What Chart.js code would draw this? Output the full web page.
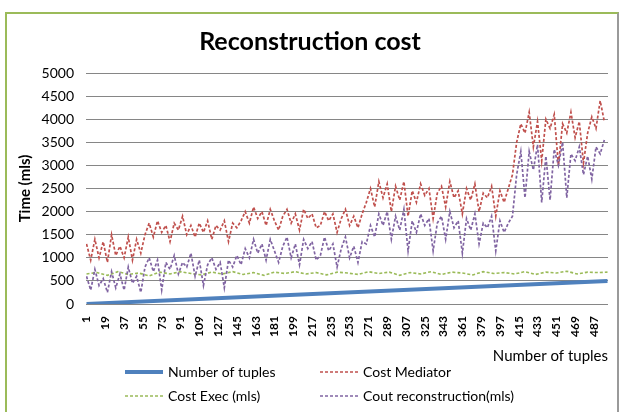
<!DOCTYPE html>
<html>
<head>
<meta charset="utf-8">
<script src="https://cdn.jsdelivr.net/npm/chart.js@4.4.1/dist/chart.umd.min.js"></script>
<style>
  body { margin: 0; background: #fff; }
  #wrap { position: relative; width: 621px; height: 412px; overflow: hidden; }
  #frame { position: absolute; left: 5px; top: 12px; width: 610px; height: 420px; border: 2px solid #9bbb59; border-right-color: #9a9a9a; }
  canvas { position: absolute; left: 0; top: 0; }
</style>
</head>
<body>
<div id="wrap">
  <div id="frame"></div>
  <canvas id="myChart" width="621" height="412"></canvas>
</div>
<script>
// tick labels shown on the x axis (every 18th tuple count)
const tickLabels = [1, 19, 37, 55, 73, 91, 109, 127, 145, 163, 181, 199, 217, 235, 253,
    271, 289, 307, 325, 343, 361, 379, 397, 415, 433, 451, 469, 487];

// number of tuples: straight line from 1 to 500
const tuplesX = [1, 500];
const tuplesY = [1, 500];

// sampled every 4 tuples (1, 5, 9, ... 497)
const costMediator = [
    1300, 950, 1400, 1000, 1350, 900, 1500, 1050, 1250, 1000, 1450, 950, 1400, 1100,
    1500, 1750, 1450, 1800, 1550, 1700, 1350, 1750, 1600, 1900, 1500, 1700, 1450, 1750,
    1550, 1800, 1400, 1700, 1600, 1800, 1350, 1750, 1650,
    1800, 2000, 1750, 2100,
    1850, 2000, 1700, 2050, 1800, 1600, 1900, 2050, 1750, 1950, 1600, 2050, 1850, 1950,
    1650, 1700, 2000, 1800, 1950, 1550, 1850, 2050, 1700, 1900, 1650, 1950,
    2200, 2500, 2100, 2650,
    2300, 2600, 2000, 2550, 2250, 2650, 1900, 2450, 2200, 2600, 2350, 2500, 1850, 2400,
    2550, 2100, 2650, 2300, 2450, 1950, 2500, 2250, 2600, 2000, 2400, 2300, 2550, 1900,
    2450, 2200, 2500,
    2800, 3500, 3900,
    3700, 4150, 3400, 3950, 3100, 4000, 3800, 4100, 3000, 3900, 3700, 4150, 3600, 3950,
    3050, 3700, 4050, 3800, 4400, 3950
];

const coutReconstruction = [
    600, 300, 750, 400, 550, 250, 700, 350, 650, 300, 800, 450, 600, 250,
    800, 1000, 700, 950, 300, 900, 750, 1050, 650, 900, 800, 1100, 600, 950,
    400, 850, 1000, 750, 900, 350, 950, 800, 1050,
    850, 1200, 1000, 1400,
    1100, 1300, 950, 1400, 1150, 900, 1250, 1450, 1000, 1300, 850, 1400, 1200, 1350,
    950, 1050, 1450, 1150, 1300, 800, 1200, 1450, 1000, 1250, 900, 1350,
    1300, 1700, 1450, 1950,
    1700, 2000, 1400, 1900, 1600, 2050, 1150, 1800, 1550, 1950, 1700, 1850, 1150, 1750,
    1900, 1400, 2000, 1650, 1800, 1100, 1850, 1600, 1950, 1300, 1750, 1650, 1900, 1150,
    1800, 1550, 1750,
    1900, 2800, 3300,
    2300, 3300, 2900, 3450, 2200, 3200, 2250, 3350, 3000, 3500, 2300, 3250, 3100, 3400,
    2800, 3200, 2700, 3400, 3250, 3550
];

// sampled every 10 tuples
const costExec = [
    650, 680, 620, 700, 640, 670, 610, 690, 650, 700, 660, 630, 690, 650, 700, 640, 680,
    620, 690, 660, 700, 650, 680, 630, 690, 670, 640, 700, 660, 690, 620, 680, 650, 700,
    640, 690, 670, 630, 700, 660, 680, 650, 700, 640, 690, 670, 710, 650, 690, 680, 690
];

const sampleX = costMediator.map((v, k) => 1 + k * 4);
const execX = costExec.map((v, k) => Math.min(1 + k * 10, 500));

const font = "Lato, 'Open Sans', sans-serif";

function pts(xs, ys) {
    return ys.map((y, k) => ({ x: xs[k], y: y }));
}

// 2 x 2 legend under the chart, like the original
const gridLegend = {
    id: "gridLegend",
    afterDraw(chart) {
        const c = chart.ctx;
        chart.data.datasets.forEach((ds, i) => {
            const x0 = 125 + (i % 2) * 195;
            const y = 372 + Math.floor(i / 2) * 24;
            c.save();
            c.strokeStyle = ds.borderColor;
            c.lineWidth = ds.borderWidth;
            c.setLineDash(ds.borderDash || []);
            c.beginPath();
            c.moveTo(x0, y);
            c.lineTo(x0 + 38, y);
            c.stroke();
            c.setLineDash([]);
            c.fillStyle = "#000";
            c.font = "14px " + font;
            c.textBaseline = "middle";
            c.fillText(ds.label, x0 + 43, y);
            c.restore();
        });
    },
};

const ctx = document.getElementById("myChart");

new Chart(ctx, {
    type: "line",
    data: {
        datasets: [
            {
                label: "Number of tuples",
                data: pts(tuplesX, tuplesY),
                borderColor: "#4f81bd",
                borderWidth: 4,
                order: 4,
            },
            {
                label: "Cost Mediator",
                data: pts(sampleX, costMediator),
                borderColor: "#c0504d",
                borderWidth: 1.7,
                borderDash: [3, 2],
                order: 3,
            },
            {
                label: "Cost Exec (mls)",
                data: pts(execX, costExec),
                borderColor: "#9bbb59",
                borderWidth: 1.6,
                borderDash: [3, 2],
                order: 2,
            },
            {
                label: "Cout reconstruction(mls)",
                data: pts(sampleX, coutReconstruction),
                borderColor: "#8064a2",
                borderWidth: 1.7,
                borderDash: [3, 2],
                order: 1,
            },
        ],
    },
    options: {
        responsive: false,
        animation: false,
        elements: { point: { radius: 0 }, line: { tension: 0 } },
        layout: { padding: { left: 12, right: 13, top: 8, bottom: 47 } },
        plugins: {
            legend: { display: false },
            tooltip: { enabled: false },
            title: {
                display: true,
                text: "Reconstruction cost",
                color: "#000",
                font: { family: font, size: 25, weight: "bold" },
                padding: { top: 19, bottom: 16 },
            },
        },
        scales: {
            x: {
                type: "linear",
                min: 0.5,
                max: 500.5,
                afterBuildTicks: (scale) => {
                    scale.ticks = tickLabels.map((v) => ({ value: v }));
                },
                afterFit: (scale) => {
                    scale.height = 61;
                },
                grid: { display: false },
                border: { display: false },
                ticks: {
                    autoSkip: false,
                    minRotation: 90,
                    maxRotation: 90,
                    padding: 4,
                    color: "#000",
                    font: { family: font, size: 12, weight: "bold" },
                    callback: (v) => v,
                },
                title: {
                    display: true,
                    align: "end",
                    text: "Number of tuples",
                    color: "#000",
                    font: { family: font, size: 15 },
                    padding: { top: 0, bottom: 0 },
                },
            },
            y: {
                min: 0,
                max: 5000,
                afterFit: (scale) => {
                    scale.width = 74;
                },
                grid: { color: "#868686", drawTicks: false },
                border: { display: false },
                ticks: {
                    stepSize: 500,
                    padding: 12,
                    color: "#000",
                    font: { family: font, size: 14 },
                    callback: (v) => v,
                },
                title: {
                    display: true,
                    text: "Time (mls)",
                    color: "#000",
                    font: { family: font, size: 15, weight: "bold" },
                    padding: { top: 4, bottom: 0 },
                },
            },
        },
    },
    plugins: [gridLegend],
});
</script>
</body>
</html>
